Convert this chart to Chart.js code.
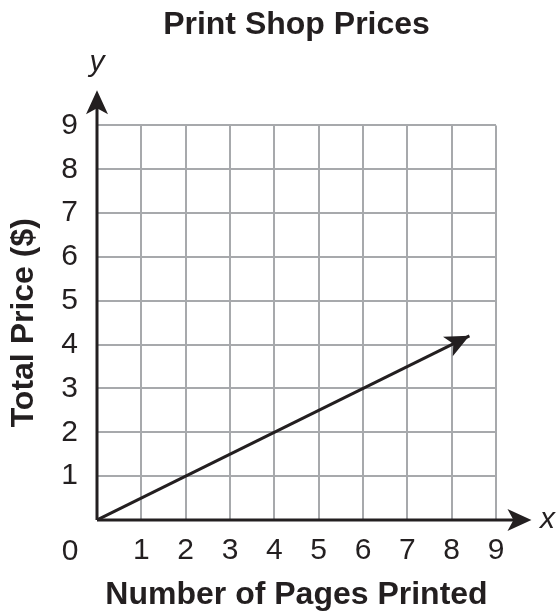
<!DOCTYPE html>
<html>
<head>
<meta charset="utf-8">
<script src="https://cdn.jsdelivr.net/npm/chart.js@4"></script>
<style>
  html, body { margin: 0; padding: 0; background: #fff; }
  #wrap { width: 556px; height: 612px; }
</style>
</head>
<body>
<div id="wrap"><canvas id="chart" width="556" height="612"></canvas></div>
<script>
// Data
const xTicks = [0, 1, 2, 3, 4, 5, 6, 7, 8, 9];
const yTicks = [0, 1, 2, 3, 4, 5, 6, 7, 8, 9];
const pages = [0, 8.4];
const price = [0, 4.2];

const FONT = "'Liberation Sans', Arial, Helvetica, sans-serif";
const INK = "#231f20";
const GRID = "#a7a9ac";

function drawArrow(ctx, x, y, angle) {
    // filled arrow head with a notched back
    const len = 24, half = 11, notch = 6;
    ctx.save();
    ctx.translate(x, y);
    ctx.rotate(angle);
    ctx.beginPath();
    ctx.moveTo(0, 0);
    ctx.lineTo(-len, -half);
    ctx.lineTo(-len + notch, 0);
    ctx.lineTo(-len, half);
    ctx.closePath();
    ctx.fillStyle = INK;
    ctx.fill();
    ctx.restore();
}

const axesPlugin = {
    id: "axesArrows",
    afterDatasetsDraw(chart) {
        const ctx = chart.ctx;
        const xs = chart.scales.x, ys = chart.scales.y;
        const ox = xs.getPixelForValue(0), oy = ys.getPixelForValue(0);
        const xEnd = xs.getPixelForValue(9.8), yEnd = ys.getPixelForValue(9.8);

        ctx.save();
        ctx.strokeStyle = INK;
        ctx.lineWidth = 3;
        ctx.beginPath();
        ctx.moveTo(ox, oy);
        ctx.lineTo(xEnd - 10, oy);
        ctx.moveTo(ox, oy);
        ctx.lineTo(ox, yEnd + 10);
        ctx.stroke();
        drawArrow(ctx, xEnd, oy, 0);
        drawArrow(ctx, ox, yEnd, -Math.PI / 2);

        // arrow at the end of the data line
        const pts = chart.getDatasetMeta(0).data;
        const a = pts[pts.length - 2], b = pts[pts.length - 1];
        drawArrow(ctx, b.x, b.y, Math.atan2(b.y - a.y, b.x - a.x));

        // axis letters and the shared zero
        ctx.fillStyle = INK;
        ctx.textAlign = "center";
        ctx.textBaseline = "middle";
        ctx.font = "italic 30px " + FONT;
        ctx.fillText("y", ox, yEnd - 28);
        ctx.fillText("x", xEnd + 16, oy);
        ctx.font = "30px " + FONT;
        ctx.fillText("0", ox - 27, oy + 32);
        ctx.restore();
    }
};

new Chart(document.getElementById("chart"), {
    type: "scatter",
    data: {
        datasets: [{
            data: pages.map((p, i) => ({ x: p, y: price[i] })),
            showLine: true,
            borderColor: INK,
            borderWidth: 3,
            pointRadius: 0,
            fill: false
        }]
    },
    options: {
        responsive: false,
        animation: false,
        layout: { padding: { left: 0, right: 60, top: 0, bottom: 0 } },
        plugins: {
            legend: { display: false },
            tooltip: { enabled: false },
            title: {
                display: true,
                text: "Print Shop Prices",
                color: INK,
                fullSize: false,
                font: { family: FONT, size: 32, weight: "bold" },
                padding: { top: 6, bottom: 81 }
            }
        },
        scales: {
            x: {
                type: "linear",
                min: 0,
                max: 9,
                afterBuildTicks: s => { s.ticks = xTicks.map(v => ({ value: v })); },
                afterFit: s => { s.height = 92; },
                grid: { color: GRID, lineWidth: 2, drawTicks: false },
                border: { display: false },
                ticks: {
                    color: INK,
                    padding: 13,
                    font: { family: FONT, size: 30 },
                    callback: v => (v === 0 ? "" : String(v))
                },
                title: {
                    display: true,
                    text: "Number of Pages Printed",
                    color: INK,
                    font: { family: FONT, size: 32, weight: "bold" },
                    padding: { top: 0, bottom: -2 }
                }
            },
            y: {
                type: "linear",
                min: 0,
                max: 9,
                afterBuildTicks: s => { s.ticks = yTicks.map(v => ({ value: v })); },
                afterFit: s => { s.width = 97; },
                grid: { color: GRID, lineWidth: 2, drawTicks: false },
                border: { display: false },
                ticks: {
                    color: INK,
                    padding: 19,
                    font: { family: FONT, size: 30 },
                    callback: v => (v === 0 ? "" : String(v))
                },
                title: {
                    display: true,
                    text: "Total Price ($)",
                    color: INK,
                    font: { family: FONT, size: 32, weight: "bold" },
                    padding: { top: 5, bottom: 0 }
                }
            }
        }
    },
    plugins: [axesPlugin]
});
</script>
</body>
</html>
